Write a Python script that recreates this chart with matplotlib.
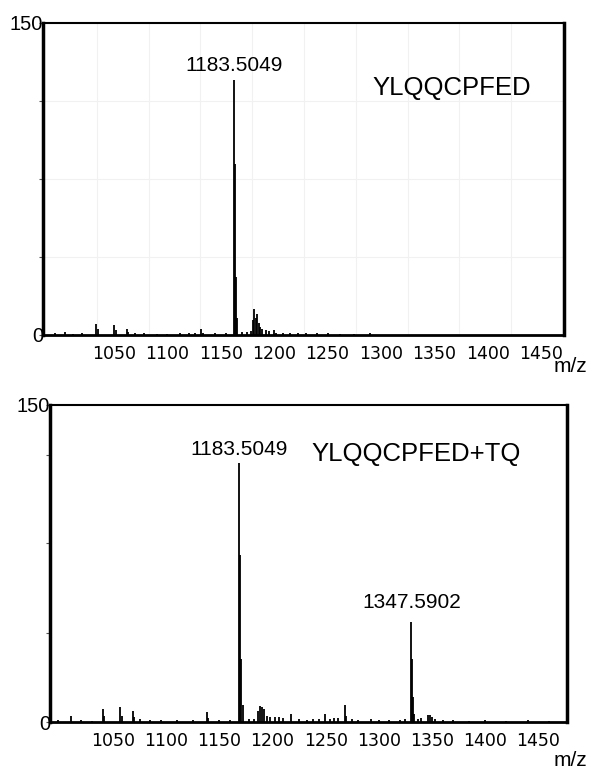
import matplotlib.pyplot as plt

# 上图：YLQQCPFED（m/z 按图中刻度读取）
top_mz = [995, 1004, 1012, 1020, 1033.5, 1035, 1050, 1051.5, 1062, 1063.5, 1070, 1078, 1090,
          1100, 1112, 1120, 1126, 1131.5, 1133, 1145, 1155,
          1162.5, 1163.5, 1164.5, 1165.5, 1170, 1175, 1178,
          1180.5, 1181.5, 1183, 1184.2, 1185.5, 1187, 1189, 1192, 1195, 1199.5, 1202,
          1208, 1215, 1222, 1230, 1240, 1250, 1262, 1275, 1290]
top_int = [0.8, 1.5, 0.7, 0.8, 5.5, 3.0, 5.0, 2.5, 3.0, 1.5, 1.0, 0.8, 0.7,
           0.7, 0.8, 0.8, 1.1, 2.7, 1.2, 0.8, 0.9,
           122.5, 82, 28, 8, 1.5, 1.5, 2.0,
           7.0, 12.3, 8.0, 10.2, 6.0, 4.0, 3.0, 2.5, 2.0, 2.4, 1.2,
           1.0, 1.0, 0.9, 1.0, 0.8, 0.8, 0.7, 0.6, 0.9]

# 下图：YLQQCPFED+TQ
bot_mz = [998, 1010, 1020, 1030, 1040.3, 1041.5, 1056.6, 1058, 1068.8, 1070, 1075, 1085, 1095,
          1110, 1125, 1138.2, 1139.5, 1150, 1160,
          1168.8, 1169.8, 1170.8, 1171.8, 1178, 1183,
          1186.5, 1188.4, 1190, 1192, 1195, 1198, 1202, 1206, 1210, 1217.2, 1225, 1232,
          1238, 1244, 1249.5, 1254, 1258, 1262, 1268.4, 1269.5, 1275, 1280, 1293, 1300, 1310,
          1320, 1325, 1330.5, 1331.5, 1332.5, 1333.5, 1337, 1340, 1346.5, 1348, 1350, 1353,
          1360, 1370, 1385, 1400, 1420, 1440, 1460]
bot_int = [0.8, 2.7, 0.8, 0.7, 6.3, 3.0, 7.1, 3.0, 5.2, 2.5, 1.2, 1.0, 0.8,
           0.8, 0.9, 4.7, 2.0, 0.9, 1.0,
           122.6, 79, 30, 8, 1.5, 1.5,
           5.0, 7.6, 7.0, 6.3, 3.0, 2.4, 2.6, 2.4, 2.0, 3.9, 1.2, 1.0,
           1.5, 1.2, 3.9, 1.5, 2.0, 2.0, 7.9, 3.0, 1.2, 1.0, 1.5, 0.9, 1.0,
           1.0, 1.2, 47.3, 30, 12, 4, 1.5, 2.0, 3.5, 3.2, 2.5, 1.5,
           0.9, 0.8, 0.7, 0.8, 0.7, 0.8, 0.7]

xtick_vals = [1050, 1100, 1150, 1200, 1250, 1300, 1350, 1400, 1450]
peak_top = (1162.5, 122.5, '1183.5049')
peaks_bot = [(1168.8, 122.6, '1183.5049'), (1330.5, 47.3, '1347.5902')]

fig = plt.figure(figsize=(5.89, 7.71), dpi=100)
ax1 = fig.add_axes([43/589, 1-335/771, 521/589, 312/771])
ax2 = fig.add_axes([50/589, 1-722/771, 517/589, 317/771])


def style(ax, xlim, yticks):
    ax.set_xlim(*xlim)
    ax.set_ylim(0, 150)
    ax.set_xticks(xtick_vals)
    ax.set_xticklabels([str(v) for v in xtick_vals], family='DejaVu Sans', fontsize=12.5)
    ax.tick_params(axis='x', length=0, pad=7)
    ax.set_yticks(yticks)
    ax.set_yticklabels(['0', '', '', '', '150'], family='Liberation Sans', fontsize=14.5)
    ax.tick_params(axis='y', length=3, color='#555555', pad=-3)
    for s in ['left', 'right']:
        ax.spines[s].set_linewidth(2.5)
    ax.spines['top'].set_linewidth(1.5)
    ax.spines['bottom'].set_linewidth(2)


# 上图
style(ax1, (983.5, 1471.5), [0, 37.5, 75, 112.5, 150])
ax1.vlines(top_mz, 0, top_int, color='black', lw=1.3)
ax1.set_xticks([1034 + 48.5 * i for i in range(9)], minor=True)
ax1.tick_params(axis='x', which='minor', length=0)
ax1.grid(True, which='minor', axis='x', color='#f1f1f1', lw=0.8)
ax1.grid(True, which='major', axis='y', color='#f1f1f1', lw=0.8)
ax1.set_axisbelow(True)
ax1.annotate(peak_top[2], xy=(peak_top[0], peak_top[1]), xytext=(0, 4),
             textcoords='offset points', ha='center', va='bottom',
             family='Liberation Sans', fontsize=15)
ax1.text(0.785, 0.792, 'YLQQCPFED', transform=ax1.transAxes, ha='center', va='center',
         family='Liberation Sans', fontsize=18.5)

# 下图
style(ax2, (990.7, 1477), [0, 42, 84.5, 126.5, 150])
ax2.vlines(bot_mz, 0, bot_int, color='black', lw=1.3)
for x, y, lab in peaks_bot:
    gap = 2.5 if y > 100 else 7
    ax2.annotate(lab, xy=(x, y), xytext=(0, gap), textcoords='offset points',
                 ha='center', va='bottom', family='Liberation Sans', fontsize=15)
ax2.text(0.708, 0.845, 'YLQQCPFED+TQ', transform=ax2.transAxes, ha='center', va='center',
         family='Liberation Sans', fontsize=18.5)

fig.text(587/589, 1-367/771, 'm/z', ha='right', va='center', family='Liberation Sans', fontsize=15)
fig.text(587/589, 1-761/771, 'm/z', ha='right', va='center', family='Liberation Sans', fontsize=15)

plt.savefig('out.png', dpi=100)
